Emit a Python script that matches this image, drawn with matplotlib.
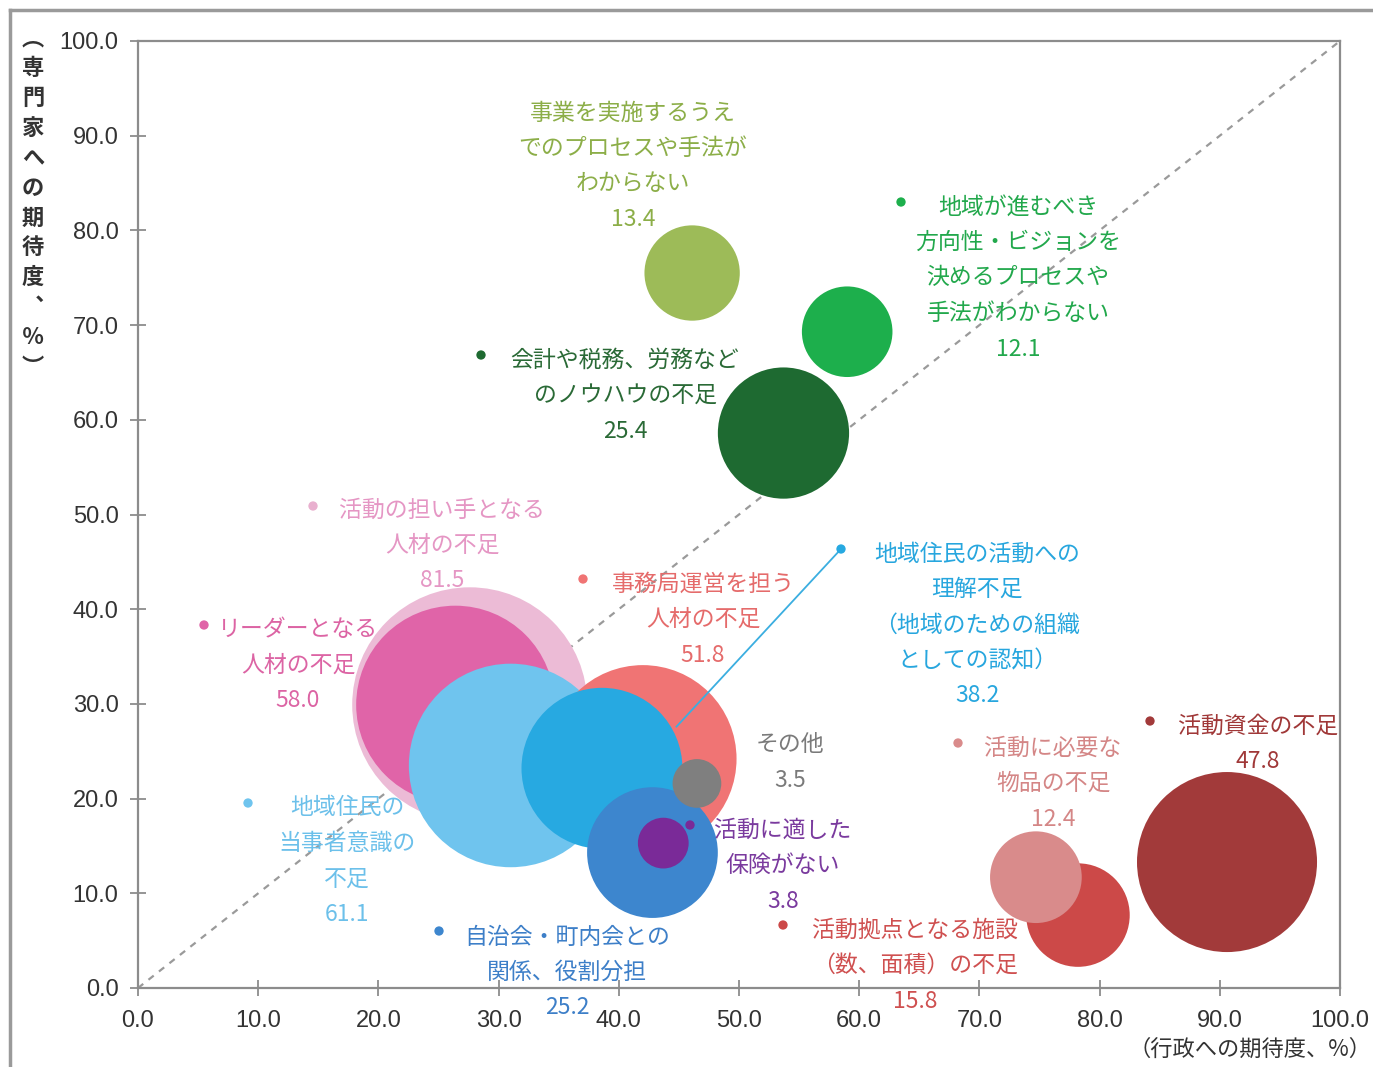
import matplotlib
matplotlib.use("Agg")
import matplotlib.pyplot as plt
from matplotlib.lines import Line2D

plt.rcParams['font.family'] = ['Noto Sans CJK JP', 'DejaVu Sans']

# ---- data (draw order) ----
names = [
    "活動の担い手となる\n人材の不足",
    "リーダーとなる\n人材の不足",
    "地域住民の\n当事者意識の\n不足",
    "事務局運営を担う\n人材の不足",
    "地域住民の活動への\n理解不足\n（地域のための組織\nとしての認知）",
    "自治会・町内会との\n関係、役割分担",
    "その他",
    "活動に適した\n保険がない",
    "活動資金の不足",
    "活動拠点となる施設\n（数、面積）の不足",
    "活動に必要な\n物品の不足",
    "会計や税務、労務など\nのノウハウの不足",
    "事業を実施するうえ\nでのプロセスや手法が\nわからない",
    "地域が進むべき\n方向性・ビジョンを\n決めるプロセスや\n手法がわからない",
]
gov_expect = [27.6, 26.4, 31.0, 42.0, 38.6, 42.8, 46.5, 43.7, 90.6, 78.2, 74.7, 53.7, 46.1, 59.0]
exp_expect = [29.9, 29.9, 23.5, 24.2, 23.2, 14.3, 21.6, 15.3, 13.3, 7.7, 11.7, 58.6, 75.5, 69.3]
share = [81.5, 58.0, 61.1, 51.8, 38.2, 25.2, 3.5, 3.8, 47.8, 15.8, 12.4, 25.4, 13.4, 12.1]

bubble_colors = ["#ECBBD6", "#E064A8", "#6FC4EE", "#F07474", "#27A9E1", "#3D86CE", "#7F7F7F",
                 "#7A2A98", "#A23A3A", "#CC4948", "#D98B8B", "#1E6A31", "#9DBB58", "#1DAF4C"]
text_colors = ["#E596C4", "#DC64A4", "#6CC0EA", "#E56B6B", "#27A6DE", "#3D7FC8", "#7A7A7A",
               "#7A3A9E", "#A03838", "#CF5050", "#D48686", "#2A6A36", "#8CAE48", "#22A84C"]

# label layout (pixel positions of first line centre, and marker dot)
label_px = [(442, 510), (298, 630), (347, 808), (703, 584), (977, 554), (567, 937), (790, 745),
            (783, 830), (1258, 726), (915, 930), (1053, 748), (625, 360), (633, 113), (1018, 207)]
dot_px = [(313, 506), (204, 625), (248, 803), (583, 579), (841, 549), (439, 931), None,
          (690, 825), (1150, 721), (783, 925), (958, 743), (481, 355), None, (901, 202)]

ticks = [0, 10, 20, 30, 40, 50, 60, 70, 80, 90, 100]
tick_labels = ["0.0", "10.0", "20.0", "30.0", "40.0", "50.0", "60.0", "70.0", "80.0", "90.0", "100.0"]

W, H = 1373, 1067
fig = plt.figure(figsize=(W / 100, H / 100), dpi=100)
ax_l, ax_r, ax_b, ax_t = 138, 1340, 988, 41
ax = fig.add_axes([ax_l / W, 1 - ax_b / H, (ax_r - ax_l) / W, (ax_b - ax_t) / H])
ax.set_xlim(0, 100)
ax.set_ylim(0, 100)


def px2data(px, py):
    return (px - ax_l) / (ax_r - ax_l) * 100, (ax_b - py) / (ax_b - ax_t) * 100


# diagonal
ax.plot([0, 100], [0, 100], ls=(0, (3, 3)), color="#9A9A9A", lw=1.6, zorder=1)

# bubbles
k = 13.02 * 0.72 * 2  # px radius per sqrt(value) -> diameter in points
for i in range(len(share)):
    ax.scatter(gov_expect[i], exp_expect[i], s=(k ** 2) * share[i], color=bubble_colors[i],
               edgecolors='none', zorder=2 + i * 0.01)

# leader line for item 4
lx0, ly0 = px2data(*dot_px[4])
ax.plot([lx0, 44.8], [ly0, 27.6], color="#3BAEE0", lw=1.3, zorder=3)

# labels
for i in range(len(names)):
    lx, ly = px2data(*label_px[i])
    lines = names[i].split("\n") + [f"{share[i]:.1f}"]
    for j, line in enumerate(lines):
        ax.annotate(line, xy=(lx, ly), xytext=(0, -j * 35.5 * 0.72), textcoords="offset points",
                    ha="center", va="center", fontsize=16.5, color=text_colors[i], zorder=5,
                    annotation_clip=False)
    if dot_px[i] is not None:
        dx, dy = px2data(*dot_px[i])
        ax.scatter(dx, dy, s=45, color=bubble_colors[i] if i != 0 else "#E9B0CF",
                   edgecolors='none', zorder=5, clip_on=False)

# axes styling
for sp in ax.spines.values():
    sp.set_color("#8C8C8C")
    sp.set_linewidth(1.6)
ax.set_xticks(ticks)
ax.set_yticks(ticks)
ax.set_xticklabels(tick_labels, family=["Liberation Sans", "DejaVu Sans"], fontsize=17, color="#333333")
ax.set_yticklabels(tick_labels, family=["Liberation Sans", "DejaVu Sans"], fontsize=17, color="#333333")
ax.tick_params(axis='both', direction='inout', length=12, width=1.3, color="#8C8C8C")
ax.tick_params(axis='x', pad=10)
ax.tick_params(axis='y', pad=8)

# axis titles
ylab = "\n".join(["︵", "専", "門", "家", "へ", "の", "期", "待", "度", "︑", "％", "︶"])
fig.text(33 / W, 1 - 203 / H, ylab, ha="center", va="center", fontsize=16, fontweight="bold",
         color="#333333", linespacing=1.38)
fig.text(1371 / W, 1 - 1049 / H, "（行政への期待度、%）", ha="right", va="center", fontsize=16,
         color="#333333")

# outer border of the original panel
fig.add_artist(Line2D([10 / W, 1], [1 - 10 / H, 1 - 10 / H], color="#9A9A9A", lw=2.5))
fig.add_artist(Line2D([10 / W, 10 / W], [0, 1 - 10 / H], color="#9A9A9A", lw=2.5))

fig.savefig("out.png", dpi=100)
